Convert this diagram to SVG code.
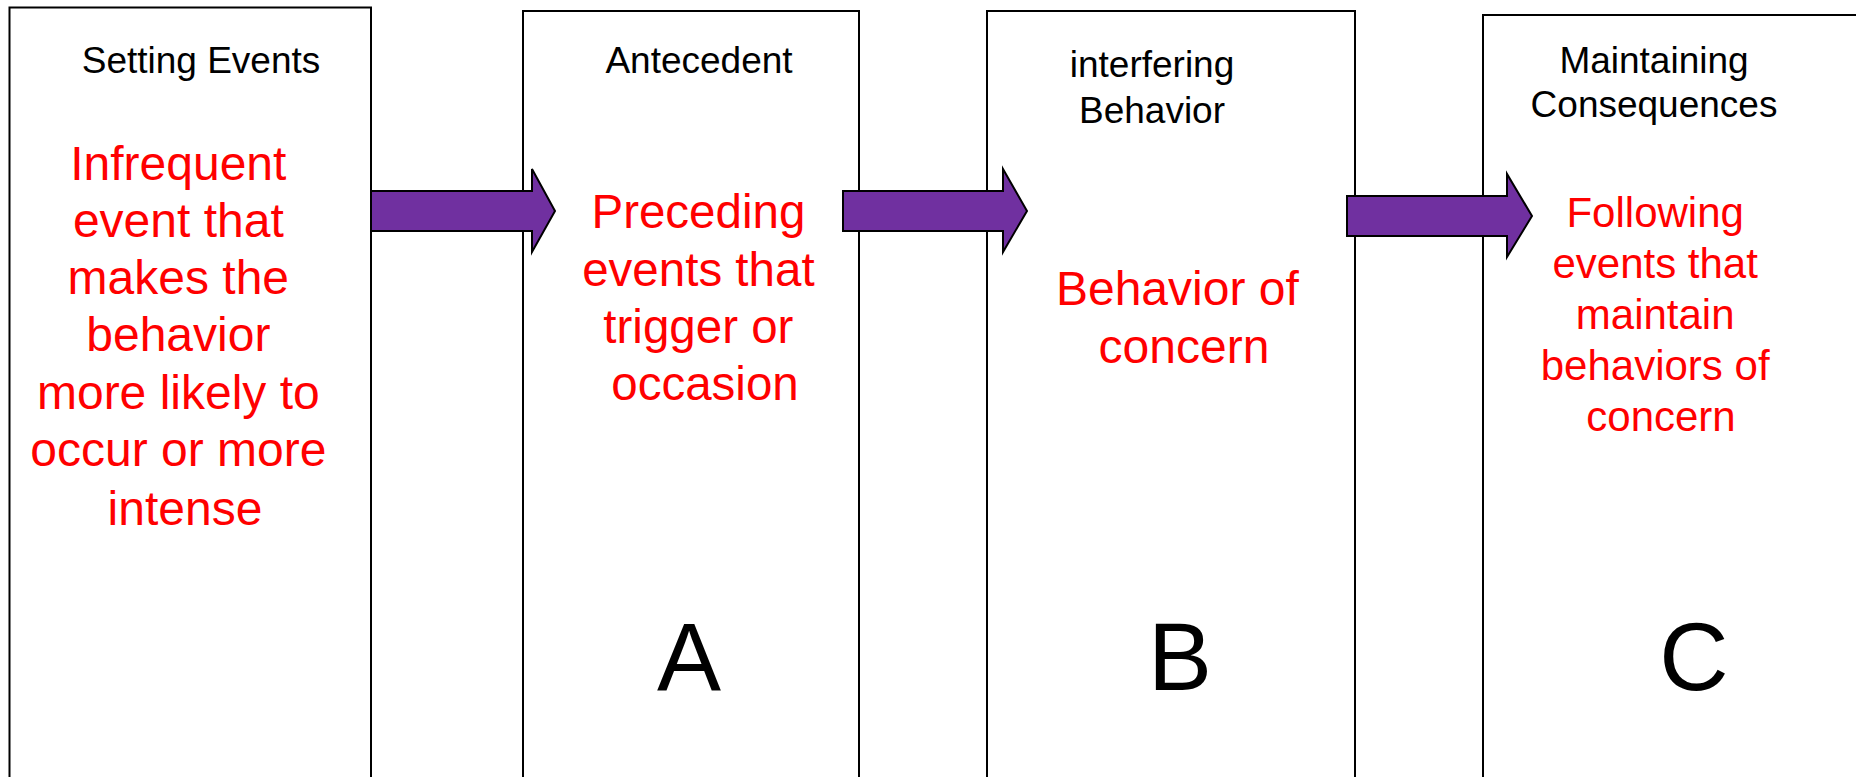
<svg xmlns="http://www.w3.org/2000/svg" width="1856" height="777" viewBox="0 0 1856 777">
  <style>
    .box { fill: #ffffff; stroke: #000000; stroke-width: 2; }
    .head { font-family: "Liberation Sans", Arial, sans-serif; font-size: 37px; fill: #000000; text-anchor: middle; }
    .desc { font-family: "Liberation Sans", Arial, sans-serif; font-size: 48px; fill: #ff0000; text-anchor: middle; }
    .desc-s { font-family: "Liberation Sans", Arial, sans-serif; font-size: 42px; fill: #ff0000; text-anchor: middle; }
    .letter { font-family: "Liberation Sans", Arial, sans-serif; font-size: 96px; fill: #000000; text-anchor: middle; }
    .arrow { fill: #7030a0; stroke: #000000; stroke-width: 2; stroke-linejoin: miter; }
  </style>

  <rect width="1856" height="777" fill="#ffffff"/>

  <!-- Setting events column -->
  <g id="setting-events">
    <rect class="box" x="9.5" y="7.5" width="361.5" height="800"/>
    <text class="head" x="201" y="72.5">Setting Events</text>
    <text class="desc" x="185">
      <tspan x="185" y="179.5">Infrequent</tspan>
      <tspan x="185" y="236.8">event that</tspan>
      <tspan x="185" y="294.1">makes the</tspan>
      <tspan x="185" y="351.4">behavior</tspan>
      <tspan x="185" y="408.7">more likely to</tspan>
      <tspan x="185" y="466">occur or more</tspan>
      <tspan x="185" y="524.5">intense</tspan>
    </text>
  </g>

  <!-- Antecedent column -->
  <g id="antecedent">
    <rect class="box" x="523" y="11" width="336" height="800"/>
    <text class="head" x="699" y="72.5">Antecedent</text>
    <text class="desc" x="705" style="font-size:47.5px">
      <tspan x="705" y="228.3">Preceding</tspan>
      <tspan x="705" y="285.6">events that</tspan>
      <tspan x="705" y="342.9">trigger or</tspan>
      <tspan x="705" y="400.2">occasion</tspan>
    </text>
    <text class="letter" x="689" y="690">A</text>
  </g>

  <!-- Interfering behavior column -->
  <g id="interfering-behavior">
    <rect class="box" x="987" y="11" width="368" height="800"/>
    <text class="head" x="1152" y="77">interfering</text>
    <text class="head" x="1152" y="122.5">Behavior</text>
    <text class="desc" x="1184">
      <tspan x="1184" y="304.5">Behavior of</tspan>
      <tspan x="1184" y="363">concern</tspan>
    </text>
    <text class="letter" x="1180" y="690">B</text>
  </g>

  <!-- Maintaining consequences column -->
  <g id="maintaining-consequences">
    <rect class="box" x="1483" y="15" width="400" height="800"/>
    <text class="head" x="1654" y="72.7">Maintaining</text>
    <text class="head" x="1654" y="117">Consequences</text>
    <text class="desc-s" x="1661">
      <tspan x="1661" y="226.7">Following</tspan>
      <tspan x="1661" y="277.7">events that</tspan>
      <tspan x="1661" y="328.7">maintain</tspan>
      <tspan x="1661" y="379.7">behaviors of</tspan>
      <tspan x="1661" y="430.7">concern</tspan>
    </text>
    <text class="letter" x="1694" y="690">C</text>
  </g>

  <!-- Block arrows linking the columns -->
  <g id="connectors">
    <polygon class="arrow" points="371,191 532,191 532,169 555,211 532,252 532,231 371,231"/>
    <polygon class="arrow" points="843,191 1003,191 1003,169 1027,211 1003,252 1003,231 843,231"/>
    <polygon class="arrow" points="1347,196 1507,196 1507,174 1532,216 1507,257 1507,236 1347,236"/>
  </g>
</svg>
